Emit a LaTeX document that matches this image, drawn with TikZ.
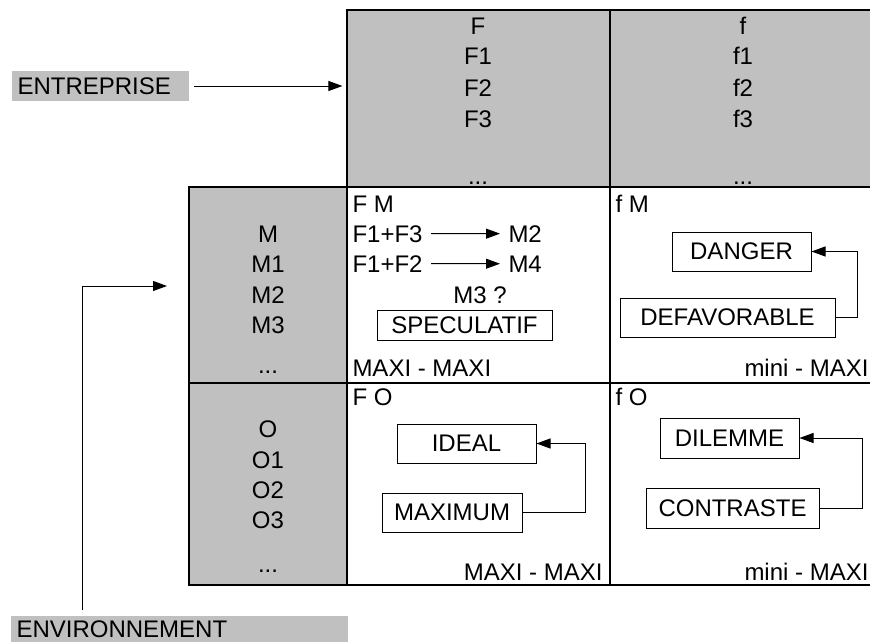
\documentclass[tikz,border=0pt]{standalone}
\usepackage{fontspec}
\setmainfont{Liberation Sans}
\usetikzlibrary{arrows.meta}
\definecolor{cellgray}{HTML}{C0C0C0}
\newcommand{\rowdots}{...}
\tikzset{
  cell/.style={draw, line width=1.2pt, inner sep=0pt},
  graycell/.style={cell, fill=cellgray},
  lbl/.style={inner sep=2pt, anchor=base},
  box/.style={draw, line width=1pt, inner sep=0pt, minimum height=39pt},
  tag/.style={fill=cellgray, inner xsep=6pt, inner ysep=0pt, text height=17pt, text depth=0pt, minimum height=30pt, text width=165pt, align=left},
}
\begin{document}
\begin{tikzpicture}[x=1pt, y=-1pt, >={Triangle[length=14pt,width=10pt]}, line width=1pt, font=\fontsize{24}{30}\selectfont]
\useasboundingbox (0,0) rectangle (870,642);
\clip (0,0) rectangle (870,642);

\node[graycell, minimum width=263pt, minimum height=177pt] (topF) at (478.5,98.5) {};
\node[graycell, minimum width=262pt, minimum height=177pt] (topf) at (741,98.5) {};
\node[graycell, minimum width=158pt, minimum height=196pt] (colM) at (268,285) {};
\node[graycell, minimum width=158pt, minimum height=202pt] (colO) at (268,484) {};
\node[cell, minimum width=263pt, minimum height=196pt] (FM) at (478.5,285) {};
\node[cell, minimum width=262pt, minimum height=196pt] (fM) at (741,285) {};
\node[cell, minimum width=263pt, minimum height=202pt] (FO) at (478.5,484) {};
\node[cell, minimum width=262pt, minimum height=202pt] (fO) at (741,484) {};

\foreach \t/\y [count=\i] in {F/35,F1/65,F2/96,F3/127,\rowdots/184}
  \node[lbl] (tF\i) at (478,\y) {\t};
\foreach \t/\y [count=\i] in {f/35,f1/65,f2/96,f3/127,\rowdots/184}
  \node[lbl] (tf\i) at (743,\y) {\t};
\foreach \t/\y [count=\i] in {M/242,M1/272,M2/303,M3/333,\rowdots/373}
  \node[lbl] (tM\i) at (268,\y) {\t};
\foreach \t/\y [count=\i] in {O/437,O1/468,O2/498,O3/528,\rowdots/572}
  \node[lbl] (tO\i) at (268,\y) {\t};

\node[lbl, anchor=base west] (nFM) at (350,212) {F M};
\node[lbl, anchor=base west] (f13) at (350,242) {F1+F3};
\node[lbl, anchor=base west] (m2) at (506,242) {M2};
\node[lbl, anchor=base west] (f12) at (350,272) {F1+F2};
\node[lbl, anchor=base west] (m4) at (506,272) {M4};
\node[lbl] (m3) at (480,303) {M3 ?};
\node[box, minimum width=175pt, minimum height=30pt] (spec) at (464.5,325) {SPECULATIF};
\node[lbl, anchor=base west] (mmFM) at (350,376) {MAXI - MAXI};
\draw[->, shorten <=6pt, shorten >=6pt] (f13) -- (m2);
\draw[->, shorten <=6pt, shorten >=6pt] (f12) -- (m4);

\node[lbl, anchor=base west] (nfM) at (613,212) {f M};
\node[box, minimum width=139pt] (danger) at (741.5,251.5) {DANGER};
\node[box, minimum width=215pt] (defav) at (727.5,317.5) {DEFAVORABLE};
\node[lbl, anchor=base east] (mmfM) at (871,376) {mini - MAXI};
\draw[->] (defav.east) -- ++(22,0) |- (danger.east);

\node[lbl, anchor=base west] (nFO) at (350,405) {F O};
\node[box, minimum width=139pt] (ideal) at (466.5,443.5) {IDEAL};
\node[box, minimum width=140pt] (maxim) at (452,512.5) {MAXIMUM};
\node[lbl, anchor=base east] (mmFO) at (605,580) {MAXI - MAXI};
\draw[->] (maxim.east) -- ++(63,0) |- (ideal.east);

\node[lbl, anchor=base west] (nfO) at (613,405) {f O};
\node[box, minimum width=139pt, minimum height=40pt] (dilem) at (729.5,438) {DILEMME};
\node[box, minimum width=173pt, minimum height=40pt] (contr) at (732.5,508) {CONTRASTE};
\node[lbl, anchor=base east] (mmfO) at (871,580) {mini - MAXI};
\draw[->] (contr.east) -- ++(43,0) |- (dilem.east);

\node[tag, anchor=west] (entr) at (11,86) {ENTREPRISE};
\node[tag, anchor=north west, minimum height=27pt, text width=325pt] (env) at (10,615) {ENVIRONNEMENT};
\coordinate (envtip) at (167,286);

\draw[->, shorten <=5pt, shorten >=4pt] (entr.east) -- (entr.east -| topF.west);
\draw[->] ([shift={(72,-5)}]env.north west) |- (envtip);
\end{tikzpicture}
\end{document}
